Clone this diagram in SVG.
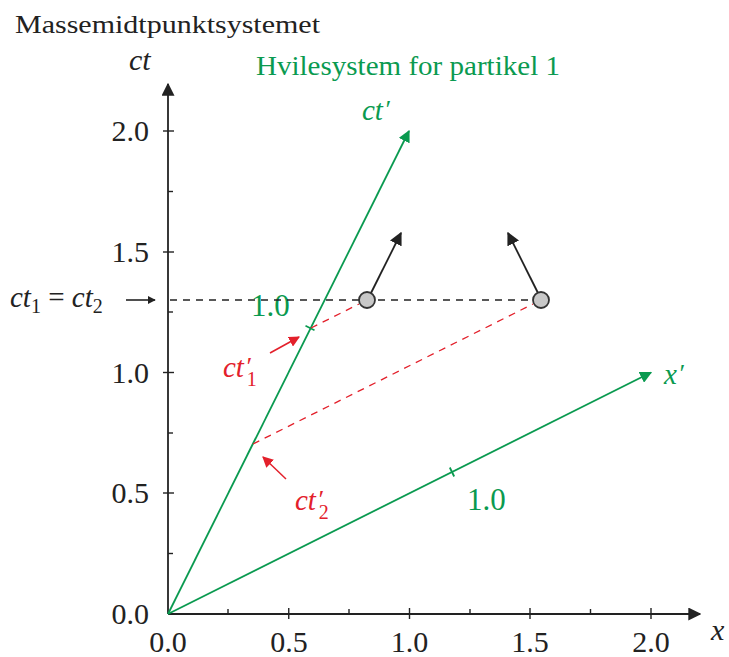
<svg xmlns="http://www.w3.org/2000/svg" width="729" height="657" viewBox="0 0 729 657">
<style>
text{font-family:"Liberation Serif","Times New Roman",serif;}
.num{font-size:30px;fill:#222;}
.it{font-style:italic;}
.ax{stroke:#222;stroke-width:1.8;fill:none;}
.tk{stroke:#222;stroke-width:1.4;}
.g{stroke:#0a9a50;stroke-width:1.8;fill:none;}
.gt{fill:#0a9a50;}
.rt{fill:#e3202b;}
.rd{stroke:#e3202b;stroke-width:1.3;stroke-dasharray:7,6;fill:none;}
.bd{stroke:#222;stroke-width:1.3;stroke-dasharray:7,6;fill:none;}
.p{fill:#c8c8c8;stroke:#333;stroke-width:1.8;}
</style>
<defs>
<marker id="ak" viewBox="0 0 10 10" refX="9" refY="5" markerWidth="8" markerHeight="8" markerUnits="userSpaceOnUse" orient="auto"><path d="M0,0 L10,5 L0,10 z" fill="#222"/></marker>
<marker id="akb" viewBox="0 0 10 10" refX="9" refY="5" markerWidth="13" markerHeight="13" markerUnits="userSpaceOnUse" orient="auto"><path d="M0,0 L10,5 L0,10 z" fill="#222"/></marker>
<marker id="ag" viewBox="0 0 10 10" refX="9" refY="5" markerWidth="12" markerHeight="12" markerUnits="userSpaceOnUse" orient="auto"><path d="M0,0 L10,5 L0,10 z" fill="#0a9a50"/></marker>
<marker id="ar" viewBox="0 0 10 10" refX="9" refY="5" markerWidth="11" markerHeight="11" markerUnits="userSpaceOnUse" orient="auto"><path d="M0,0 L10,5 L0,10 z" fill="#e3202b"/></marker>
</defs>
<text x="15" y="33" font-size="26" fill="#222" textLength="305" lengthAdjust="spacingAndGlyphs">Massemidtpunktsystemet</text>
<g id="axes">
<line class="ax" x1="168" y1="614" x2="168" y2="84" marker-end="url(#akb)"/>
<line class="ax" x1="168" y1="614" x2="700" y2="614" marker-end="url(#akb)"/>
<text x="129" y="70" font-size="30" fill="#222" class="it">ct</text>
<text x="711" y="640" font-size="30" fill="#222" class="it">x</text>
<g class="tk">
<line x1="163" y1="493" x2="174" y2="493"/><line x1="163" y1="372.5" x2="174" y2="372.5"/><line x1="163" y1="252" x2="174" y2="252"/><line x1="163" y1="131" x2="174" y2="131"/>
<line x1="168" y1="553.5" x2="173" y2="553.5"/><line x1="168" y1="433" x2="173" y2="433"/><line x1="168" y1="312" x2="173" y2="312"/><line x1="168" y1="191.5" x2="173" y2="191.5"/>
<line x1="288.75" y1="608" x2="288.75" y2="619"/><line x1="409.5" y1="608" x2="409.5" y2="619"/><line x1="530" y1="608" x2="530" y2="619"/><line x1="651" y1="608" x2="651" y2="619"/>
<line x1="228" y1="609" x2="228" y2="614"/><line x1="349" y1="609" x2="349" y2="614"/><line x1="470" y1="609" x2="470" y2="614"/><line x1="590.5" y1="609" x2="590.5" y2="614"/>
</g>
<g class="num" text-anchor="end">
<text x="149" y="624">0.0</text><text x="149" y="503">0.5</text><text x="149" y="382.5">1.0</text><text x="149" y="262">1.5</text><text x="149" y="141">2.0</text>
</g>
<g class="num" text-anchor="middle">
<text x="168" y="652">0.0</text><text x="289" y="652">0.5</text><text x="409.5" y="652">1.0</text><text x="530" y="652">1.5</text><text x="651" y="652">2.0</text>
</g>
</g>
<g id="frame1">
<text x="256" y="75" font-size="27" class="gt" textLength="304" lengthAdjust="spacingAndGlyphs">Hvilesystem for partikel 1</text>
<line class="g" x1="168" y1="614" x2="409" y2="131" marker-end="url(#ag)"/>
<line class="g" x1="168" y1="614" x2="651" y2="372.5" marker-end="url(#ag)"/>
<line class="g" x1="305.5" y1="325.8" x2="314.5" y2="330.2" stroke-width="1.4"/>
<line class="g" x1="449.8" y1="467.5" x2="454.2" y2="476.5" stroke-width="1.4"/>
<text x="362" y="120" font-size="29" class="gt it">ct<tspan font-size="26" dx="1" dy="-2">′</tspan></text>
<text x="664" y="384" font-size="29" class="gt it">x<tspan font-size="26" dx="1" dy="-2">′</tspan></text>
<text x="251" y="316" font-size="31" class="gt">1.0</text>
<text x="467" y="510" font-size="31" class="gt">1.0</text>
</g>
<g id="connectors">
<line class="bd" x1="170" y1="300" x2="533" y2="300"/>
<line class="rd" x1="311" y1="328" x2="359" y2="304"/>
<line class="rd" x1="253" y1="444" x2="533" y2="304"/>
<line stroke="#222" stroke-width="1.6" x1="126" y1="300" x2="155" y2="300" marker-end="url(#ak)"/>
<line stroke="#222" stroke-width="1.8" x1="371" y1="293" x2="401" y2="233" marker-end="url(#akb)"/>
<line stroke="#222" stroke-width="1.8" x1="538" y1="293" x2="508" y2="233" marker-end="url(#akb)"/>
<line stroke="#e3202b" stroke-width="1.5" x1="270" y1="353" x2="299" y2="337" marker-end="url(#ar)"/>
<line stroke="#e3202b" stroke-width="1.5" x1="286" y1="479" x2="263" y2="457" marker-end="url(#ar)"/>
</g>
<g id="particle1"><circle class="p" cx="367" cy="300" r="8"/></g>
<g id="particle2"><circle class="p" cx="541" cy="300" r="8"/></g>
<g id="labels">
<text x="10" y="307" font-size="29" fill="#222"><tspan class="it">ct</tspan><tspan font-size="20" dy="6">1</tspan><tspan dy="-6" xml:space="preserve"> = </tspan><tspan class="it">ct</tspan><tspan font-size="20" dy="6">2</tspan></text>
<text x="223" y="377" font-size="29" class="rt"><tspan class="it">ct</tspan><tspan class="it" dx="1" dy="-2" font-size="26">′</tspan><tspan font-size="20" dx="-4" dy="11">1</tspan></text>
<text x="295" y="510" font-size="29" class="rt"><tspan class="it">ct</tspan><tspan class="it" dx="1" dy="-2" font-size="26">′</tspan><tspan font-size="20" dx="-4" dy="11">2</tspan></text>
</g>
</svg>
